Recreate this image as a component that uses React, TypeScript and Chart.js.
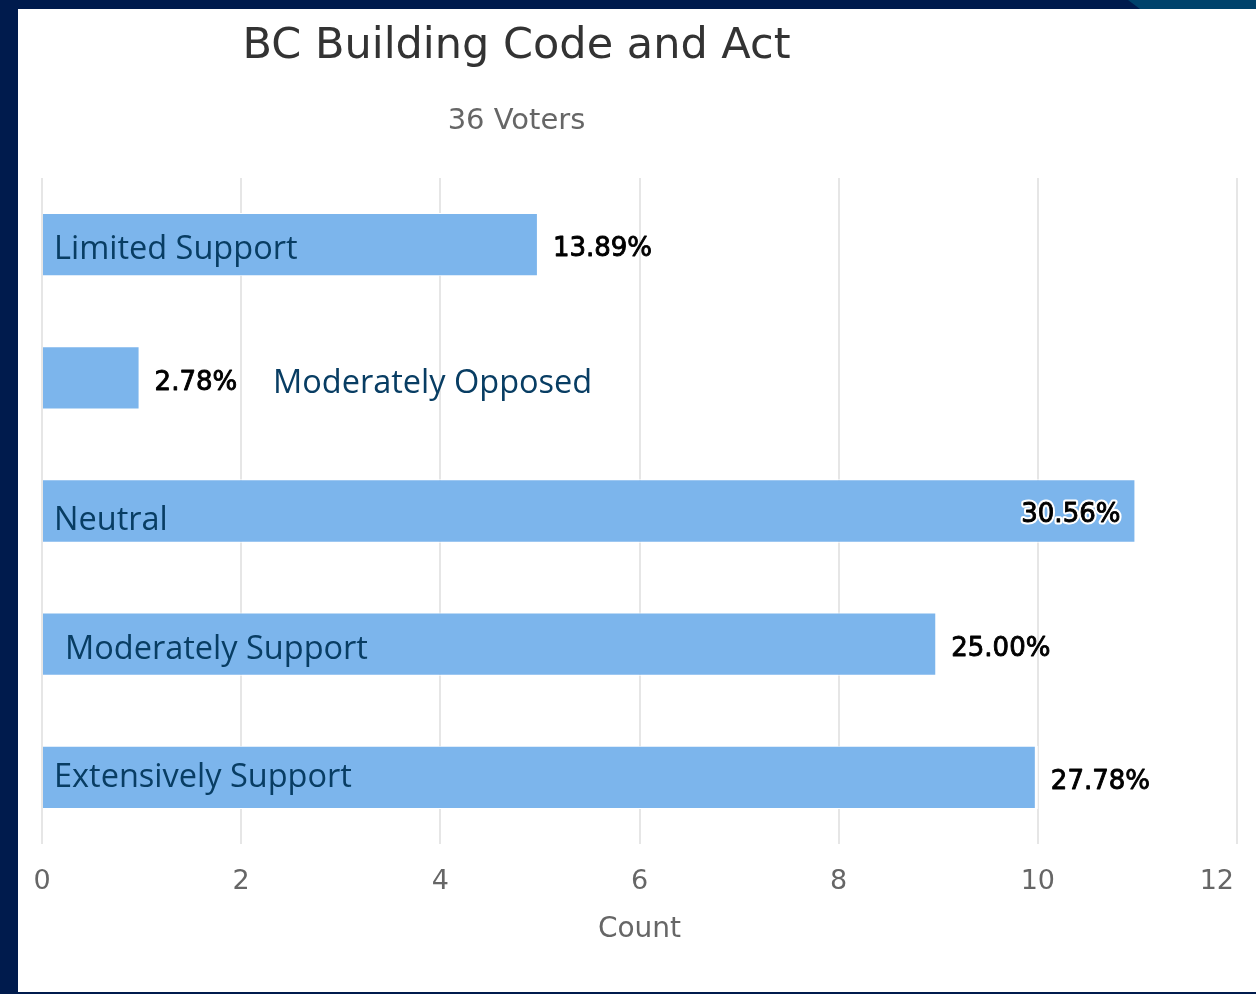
import React, { useEffect, useRef } from "react";
import { Chart, registerables } from "chart.js";

Chart.register(...registerables);

const categories = [
  "Limited Support",
  "Moderately Opposed",
  "Neutral",
  "Moderately Support",
  "Extensively Support",
];
const counts = [5, 1, 11, 9, 10];
const titleText = "BC Building Code and Act";
const subtitleText = "36 Voters";
const axisTitle = "Count";
const xMin = 0;
const xMax = 12;
const xStep = 2;

const TICK_FONT = "'DejaVu Sans', sans-serif";
const LABEL_FONT = "'Open Sans', 'Noto Sans', sans-serif";

const decorPlugin = {
  id: "decor",
  beforeDraw(chart: any) {
    const ctx = chart.ctx;
    const w = chart.width;
    const h = chart.height;
    ctx.save();
    ctx.fillStyle = "#001b4d";
    ctx.fillRect(0, 0, w, h);
    ctx.fillStyle = "#00426b";
    ctx.beginPath();
    ctx.moveTo(1128, 0);
    ctx.lineTo(w, 0);
    ctx.lineTo(w, 9);
    ctx.lineTo(1140, 9);
    ctx.closePath();
    ctx.fill();
    ctx.fillStyle = "#ffffff";
    ctx.fillRect(18, 9, w - 18, 983);
    // title & subtitle
    ctx.textAlign = "center";
    ctx.textBaseline = "middle";
    ctx.fillStyle = "#333333";
    ctx.font = `43px ${TICK_FONT}`;
    ctx.fillText(titleText, 516.5, 47);
    ctx.fillStyle = "#666666";
    ctx.font = `29px ${TICK_FONT}`;
    ctx.fillText(subtitleText, 516.5, 121);
    ctx.restore();
  },
  afterDraw(chart: any) {
    // last x tick label is justified inside the plot, as in the reference
    const ctx = chart.ctx;
    const xs = chart.scales.x;
    const ticks = xs.ticks;
    const last = ticks[ticks.length - 1];
    ctx.save();
    ctx.font = `27px ${TICK_FONT}`;
    ctx.fillStyle = "#666666";
    ctx.textAlign = "right";
    ctx.textBaseline = "middle";
    ctx.fillText(String(last.value), xs.getPixelForValue(last.value) - 3, xs.top + 22 + 16);
    ctx.restore();
  },
  afterDatasetsDraw(chart: any) {
    const ctx = chart.ctx;
    const meta = chart.getDatasetMeta(0);
    const data = chart.data.datasets[0].data as number[];
    const total = data.reduce((a: number, b: number) => a + b, 0);
    const xScale = chart.scales.x;
    const base = xScale.getPixelForValue(0);
    const area = chart.chartArea;
    // per-category label placement (dx from axis base, dy baseline from bar centre)
    const labelPlace = [
      [12, 14],
      [231, 15],
      [12, 19],
      [23, 15],
      [12, 10],
    ];
    ctx.save();
    meta.data.forEach((bar: any, i: number) => {
      const pct = ((data[i] / total) * 100).toFixed(2) + "%";
      ctx.font = `26px ${TICK_FONT}`;
      ctx.textBaseline = "middle";
      ctx.lineJoin = "round";
      const tw = ctx.measureText(pct).width;
      const outside = bar.x + 13;
      if (outside + tw > area.right) {
        const ty = bar.y + 4;
        ctx.textAlign = "right";
        ctx.lineWidth = 5;
        ctx.strokeStyle = "#ffffff";
        ctx.strokeText(pct, bar.x - 17, ty);
        ctx.lineWidth = 0.9;
        ctx.strokeStyle = "#000000";
        ctx.strokeText(pct, bar.x - 17, ty);
        ctx.fillStyle = "#000000";
        ctx.fillText(pct, bar.x - 17, ty);
      } else {
        const ty = bar.y + 5;
        ctx.textAlign = "left";
        ctx.lineWidth = 0.9;
        ctx.strokeStyle = "#000000";
        ctx.strokeText(pct, outside, ty);
        ctx.fillStyle = "#000000";
        ctx.fillText(pct, outside, ty);
      }
      // category name overlay
      const [dx, dy] = labelPlace[i];
      ctx.textAlign = "left";
      ctx.textBaseline = "alphabetic";
      ctx.font = `32.5px ${LABEL_FONT}`;
      ctx.fillStyle = "#083d63";
      ctx.fillText(categories[i], base + dx, bar.y + dy);
    });
    ctx.restore();
  },
};

export default function App() {
  const ref = useRef<HTMLCanvasElement>(null);
  useEffect(() => {
    if (!ref.current) return;
    const chart = new Chart(ref.current, {
      type: "bar",
      data: {
        labels: categories,
        datasets: [
          {
            data: counts,
            backgroundColor: "#7cb5ec",
            borderColor: "#ffffff",
            borderWidth: { top: 1, bottom: 1, right: 3, left: 0 },
            borderSkipped: false,
            barPercentage: 0.475,
            categoryPercentage: 1,
          },
        ],
      },
      plugins: [decorPlugin],
      options: {
        indexAxis: "y",
        responsive: false,
        animation: false,
        layout: { padding: { left: 42, right: 19, top: 178, bottom: 43 } },
        plugins: {
          legend: { display: false },
          tooltip: { enabled: false },
          title: { display: false },
        },
        scales: {
          y: { display: false },
          x: {
            min: xMin,
            max: xMax,
            afterFit: (s: any) => {
              s.paddingLeft = 0;
              s.paddingRight = 0;
              s.height = 107;
            },
            ticks: {
              stepSize: xStep,
              padding: 22,
              color: "#666666",
              font: { family: TICK_FONT, size: 27 },
              callback: (v: any) => (v === xMax ? "" : String(v)),
            },
            grid: { color: "#e6e6e6", lineWidth: 2, drawTicks: false },
            border: { display: false },
            title: {
              display: true,
              text: axisTitle,
              color: "#666666",
              font: { family: TICK_FONT, size: 28 },
              padding: { top: 4, bottom: 4 },
            },
          },
        },
      },
    });
    return () => chart.destroy();
  }, []);
  return (
    <div style={{ position: "absolute", left: 0, top: 0, width: 1256, height: 994 }}>
      <canvas ref={ref} width={1256} height={994} style={{ display: "block" }} />
    </div>
  );
}
